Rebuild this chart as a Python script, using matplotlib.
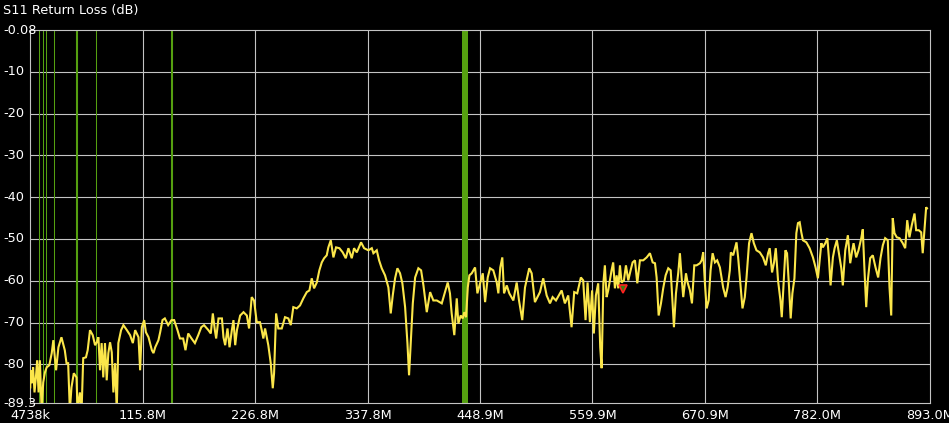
import numpy as np
import matplotlib
matplotlib.use("Agg")
from matplotlib import pyplot as plt

# ---------------- data (MHz / dB) ----------------
freq_mhz = [4.7, 4.9, 6.5, 7.5, 8.9, 10.2, 11.5, 12.9, 14.2, 15.9, 17.5, 19.2, 20.9, 23.5, 25.9, 27.5, 28.5, 30.2, 32.5,
            35.5, 38.8, 40.5, 42.1, 43.8, 45.4, 47.7, 50.4, 51.4, 53.7, 55.4, 57.0, 59.7, 61.4, 63.7, 66.4, 68.7, 70.4,
            72.0, 73.6, 75.2, 76.8, 78.5, 80.2, 81.8, 83.5, 85.2, 86.8, 88.5, 90.1, 91.7, 94.4, 96.7, 100.1, 103.3,
            106.0, 108.3, 111.6, 113.2, 114.9, 117.2, 118.9, 121.5, 124.8, 126.4, 128.1, 131.3, 133.0, 135.3, 137.6,
            140.9, 144.2, 146.8, 150.1, 152.5, 155.7, 158.0, 160.7, 164.0, 167.3, 170.6, 173.6, 176.3, 180.6, 183.0,
            185.0, 187.0, 188.3, 190.6, 194.0, 195.5, 197.2, 199.5, 201.5, 203.8, 205.4, 207.1, 208.8, 212.0, 215.3,
            218.6, 220.8, 223.4, 225.7, 228.4, 231.6, 233.3, 234.9, 236.6, 239.8, 242.2, 244.2, 245.5, 247.5, 249.7,
            253.1, 256.3, 259.6, 262.0, 264.5, 267.9, 271.1, 274.4, 277.8, 280.4, 282.7, 285.0, 287.7, 290.2, 292.6,
            294.9, 297.5, 299.1, 301.5, 304.1, 306.7, 310.0, 313.3, 316.3, 318.9, 322.2, 324.5, 327.2, 331.4, 334.4,
            338.6, 342.0, 343.6, 346.9, 349.2, 351.8, 355.1, 358.4, 360.7, 362.7, 365.0, 367.3, 369.9, 372.2, 374.9,
            377.2, 378.8, 380.5, 382.5, 384.8, 388.0, 390.7, 393.0, 396.3, 399.6, 402.8, 406.2, 411.1, 414.3, 417.0,
            419.2, 420.9, 423.5, 425.9, 427.5, 429.8, 431.8, 433.4, 435.1, 436.8, 438.4, 440.7, 444.0, 446.3, 448.9,
            451.6, 453.9, 456.5, 458.8, 462.0, 465.4, 467.0, 468.9, 470.9, 472.6, 475.3, 477.8, 481.8, 485.1, 487.4,
            490.6, 493.3, 497.5, 499.9, 503.1, 508.1, 511.3, 514.7, 518.0, 520.6, 523.9, 529.5, 532.7, 536.0, 539.3,
            541.9, 544.9, 548.5, 550.8, 553.1, 555.1, 557.4, 559.6, 561.3, 563.3, 565.6, 567.6, 569.0, 570.7, 572.2,
            573.9, 575.5, 577.2, 578.8, 580.4, 582.1, 583.8, 585.4, 587.1, 588.7, 591.0, 593.0, 595.3, 597.6, 599.6,
            601.9, 604.2, 606.8, 610.1, 613.5, 616.7, 619.4, 621.7, 623.3, 625.3, 627.6, 629.8, 632.2, 634.8, 637.2,
            639.1, 640.4, 642.4, 644.7, 646.3, 648.0, 649.6, 652.3, 653.9, 656.2, 658.2, 660.5, 662.8, 666.1, 667.8,
            669.3, 671.0, 672.7, 674.7, 676.6, 678.6, 680.9, 683.1, 685.8, 689.0, 691.4, 693.4, 695.6, 696.6, 698.9,
            700.9, 702.2, 703.8, 705.5, 708.1, 710.4, 712.1, 714.6, 717.0, 719.3, 721.9, 725.2, 728.4, 731.1, 733.4,
            735.0, 737.3, 739.3, 741.0, 743.2, 745.6, 746.9, 748.8, 750.5, 752.1, 754.1, 755.7, 757.4, 759.4, 761.3,
            762.9, 764.6, 766.2, 767.8, 771.2, 774.4, 777.7, 780.3, 782.6, 784.3, 786.0, 787.5, 789.9, 791.9, 793.4,
            795.1, 797.4, 799.1, 801.3, 803.3, 805.7, 807.2, 809.6, 812.2, 814.5, 816.5, 817.8, 820.4, 822.7, 825.4,
            826.9, 828.6, 830.3, 831.9, 834.2, 836.8, 839.5, 842.1, 844.4, 846.7, 849.0, 851.6, 853.3, 855.0, 856.5,
            858.2, 860.5, 863.2, 866.4, 868.8, 870.8, 873.0, 875.3, 878.0, 879.6, 882.2, 884.6, 886.1, 887.8, 889.5,
            890.3]
s11_db = [-85.5, -81.4, -84.5, -80.7, -86.7, -83.3, -79.0, -86.7, -79.0, -91.0, -84.3, -81.9, -80.7, -80.2, -77.3,
          -74.2, -77.1, -81.4, -75.9, -73.5, -76.6, -79.7, -79.7, -91.0, -85.5, -82.1, -83.1, -91.0, -86.7, -91.0,
          -78.5, -78.3, -76.6, -71.8, -73.0, -75.4, -74.7, -73.5, -81.4, -74.9, -83.1, -74.9, -83.8, -77.3, -74.7,
          -77.1, -86.7, -79.7, -91.0, -74.9, -71.8, -70.6, -71.8, -73.0, -74.9, -71.8, -73.5, -81.4, -71.1, -69.4,
          -72.3, -73.5, -76.6, -77.3, -75.9, -74.2, -72.3, -69.4, -69.0, -70.6, -69.4, -69.4, -71.8, -73.8, -73.8,
          -76.6, -72.6, -73.8, -74.9, -73.0, -71.1, -70.6, -71.8, -72.6, -67.8, -71.8, -73.8, -69.0, -69.0, -73.5,
          -75.4, -71.4, -75.9, -71.8, -69.4, -75.4, -71.8, -68.3, -67.5, -68.3, -71.4, -63.9, -64.7, -69.9, -69.9,
          -71.8, -73.8, -71.4, -75.4, -79.7, -85.7, -82.1, -67.8, -71.4, -71.4, -68.7, -69.0, -70.6, -66.3, -66.6,
          -65.9, -64.2, -62.7, -62.3, -59.4, -61.8, -60.4, -57.5, -55.6, -54.6, -53.9, -52.0, -50.3, -54.4, -52.0,
          -52.2, -53.2, -54.6, -52.2, -54.6, -52.2, -53.2, -50.8, -52.2, -52.7, -52.2, -53.4, -52.7, -55.1, -57.0,
          -58.7, -61.6, -67.8, -63.5, -59.4, -57.0, -58.2, -60.6, -66.3, -74.9, -82.6, -74.9, -65.4, -59.2, -57.0,
          -57.5, -61.1, -67.5, -62.7, -64.7, -64.7, -65.4, -62.7, -60.4, -63.0, -67.8, -73.0, -64.2, -70.2, -68.3,
          -69.0, -67.5, -68.7, -61.6, -58.7, -58.2, -56.8, -63.0, -60.6, -58.2, -65.1, -59.2, -57.0, -57.5, -60.4,
          -63.0, -56.8, -54.4, -63.0, -61.1, -63.0, -64.7, -60.4, -64.7, -69.4, -61.6, -57.0, -58.2, -65.1, -62.7,
          -59.4, -63.5, -65.4, -63.9, -64.7, -62.3, -65.4, -63.5, -71.1, -62.7, -63.0, -59.2, -59.9, -69.4, -60.4,
          -69.9, -62.3, -72.6, -63.5, -60.6, -75.9, -80.9, -60.6, -56.3, -63.9, -62.3, -59.9, -57.5, -55.6, -61.8,
          -58.7, -61.8, -56.3, -60.4, -59.9, -56.3, -59.9, -57.5, -55.6, -55.1, -60.6, -55.1, -55.1, -54.4, -53.4,
          -55.6, -55.8, -59.2, -68.3, -65.4, -61.8, -58.7, -57.0, -57.5, -65.4, -71.1, -63.0, -58.0, -53.4, -59.2,
          -63.9, -58.2, -60.4, -62.3, -65.4, -56.3, -56.3, -55.8, -55.1, -53.2, -60.6, -66.6, -64.7, -57.5, -53.4,
          -55.6, -55.1, -56.8, -61.6, -63.9, -61.6, -57.5, -53.2, -53.9, -52.0, -50.8, -54.4, -59.2, -66.6, -63.9,
          -59.2, -51.0, -48.6, -51.0, -52.7, -53.2, -54.4, -56.3, -53.4, -52.2, -58.0, -55.6, -52.2, -59.9, -64.7,
          -68.7, -60.4, -52.7, -53.4, -61.6, -69.0, -63.0, -59.4, -48.6, -46.2, -46.0, -48.4, -50.3, -50.8, -52.2,
          -54.4, -56.8, -59.4, -55.1, -51.0, -52.0, -51.0, -49.8, -54.4, -61.1, -54.4, -52.2, -50.3, -53.4, -57.0,
          -61.1, -52.7, -49.1, -55.8, -52.7, -51.0, -54.4, -52.7, -49.8, -47.7, -57.5, -66.3, -59.9, -54.6, -53.9,
          -56.8, -59.2, -54.6, -51.5, -49.8, -50.3, -61.6, -68.3, -45.0, -48.6, -49.6, -49.8, -51.0, -52.2, -45.5,
          -49.6, -46.7, -43.9, -47.9, -47.9, -48.4, -53.4, -47.9, -42.4, -42.7]

marker_lines_mhz = [13.6, 17.6, 20.5, 28.5, 50.9, 69.9, 144.7]
marker_widths = [1, 1, 1, 1, 2, 1, 2]
band_mhz = (431.3, 437.2)
active_marker = (590.0, -61.9)

f_start = 4.738
f_stop = 893.0
x_ticklabels = ['4738k', '115.8M', '226.8M', '337.8M', '448.9M', '559.9M', '670.9M', '782.0M', '893.0M']
y_ticks = [-0.08, -10, -20, -30, -40, -50, -60, -70, -80, -89.3]
y_ticklabels = ['-0.08', '-10', '-20', '-30', '-40', '-50', '-60', '-70', '-80', '-89.3']

# ---------------- figure ----------------
W, H = 949, 423
fs = 9.3
fig = plt.figure(figsize=(W / 100, H / 100), dpi=100, facecolor='black')
ax = fig.add_axes([30.3 / W, 1 - 403.3 / H, 899.4 / W, 373.0 / H])
ax.set_facecolor('black')

grid_c = '#c4c4c4'
x_ticks = np.linspace(f_start, f_stop, len(x_ticklabels))
for xt in x_ticks[1:-1]:
    ax.axvline(xt, color=grid_c, lw=0.8, zorder=1)
for yt in y_ticks[1:-1]:
    ax.axhline(yt, color=grid_c, lw=0.8, zorder=1)
for s in ax.spines.values():
    s.set_color(grid_c)
    s.set_linewidth(0.8)

green = '#55a010'
for m, w in zip(marker_lines_mhz, marker_widths):
    ax.axvline(m, color=green, lw=0.75 * w, zorder=2)
ax.axvspan(band_mhz[0], band_mhz[1], color=green, lw=0, zorder=2)

ax.plot(freq_mhz, s11_db, color='#fbe64a', lw=1.5, zorder=3, solid_joinstyle='miter')
ax.plot(active_marker[0], active_marker[1], marker='v', ms=5.5, mfc='#3f7a10', mec='#ff2020', mew=1.2, zorder=4)

ax.set_xlim(f_start, f_stop)
ax.set_ylim(-89.3, -0.08)

ax.set_xticks(x_ticks)
ax.set_xticklabels(x_ticklabels, color='white', fontsize=fs)
ax.tick_params(axis='x', length=0, pad=4)
ax.set_yticks([])

for yt, lab in zip(y_ticks, y_ticklabels):
    ax.text(-27.3 / 899.4, yt, lab, transform=ax.get_yaxis_transform(), color='white', fontsize=fs,
            ha='left', va='center', clip_on=False, zorder=5)

fig.text(3 / W, 1 - 10.5 / H, 'S11 Return Loss (dB)', color='white', fontsize=fs, ha='left', va='center')

fig.savefig('out.png', dpi=100, facecolor='black')
